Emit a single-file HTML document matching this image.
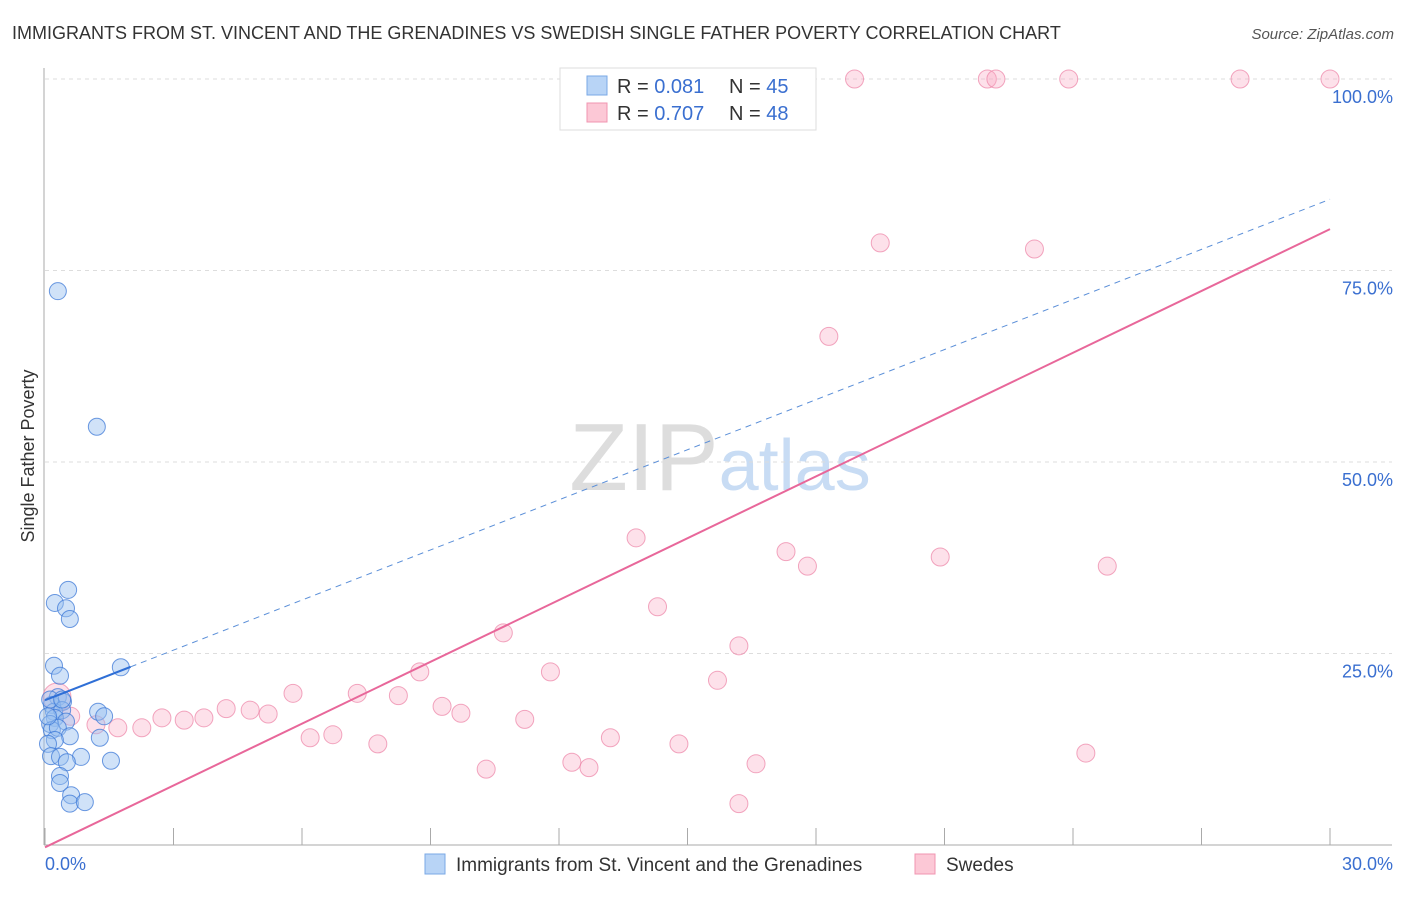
<!DOCTYPE html>
<html><head><meta charset="utf-8"><style>
body{margin:0;background:#fff;font-family:"Liberation Sans",sans-serif;}
svg text{font-family:"Liberation Sans",sans-serif;}
</style></head><body>
<svg width="1406" height="892" xmlns="http://www.w3.org/2000/svg">
<text x="12" y="39" font-size="18" fill="#333">IMMIGRANTS FROM ST. VINCENT AND THE GRENADINES VS SWEDISH SINGLE FATHER POVERTY CORRELATION CHART</text>
<text x="1394" y="39" font-size="15" fill="#555" font-style="italic" text-anchor="end">Source: ZipAtlas.com</text>
<text x="720" y="490" font-size="96" fill="#ddd" text-anchor="middle" font-family="Liberation Serif">ZIP<tspan fill="#c8dcf4" font-family="Liberation Sans" font-size="72">atlas</tspan></text>
<g id="grid"></g>
<g id="axes"></g>
<g id="marks"></g>
<text transform="translate(34,456) rotate(-90)" font-size="18" fill="#333" text-anchor="middle">Single Father Poverty</text>
<g>
<rect x="560" y="68" width="256" height="62" fill="#fff" stroke="#ddd"/>
<rect x="587" y="76" width="20" height="19" fill="#b8d4f6" stroke="#7aa8e6"/>
<rect x="587" y="103" width="20" height="19" fill="#fcc8d6" stroke="#f095b0"/>
<text x="617" y="93" font-size="20" fill="#333">R = <tspan fill="#3a6fd0">0.081</tspan></text>
<text x="729" y="93" font-size="20" fill="#333">N = <tspan fill="#3a6fd0">45</tspan></text>
<text x="617" y="120" font-size="20" fill="#333">R = <tspan fill="#3a6fd0">0.707</tspan></text>
<text x="729" y="120" font-size="20" fill="#333">N = <tspan fill="#3a6fd0">48</tspan></text>
</g>
<g>
<rect x="425" y="854" width="20" height="20" fill="#b8d4f6" stroke="#7aa8e6"/>
<text x="456" y="871" font-size="19" fill="#333">Immigrants from St. Vincent and the Grenadines</text>
<rect x="915" y="854" width="20" height="20" fill="#fcc8d6" stroke="#f095b0"/>
<text x="946" y="871" font-size="19" fill="#333">Swedes</text>
</g>
</svg>
<script>
const yTicks=[25,50,75,100];
const yTickLabels=["25.0%","50.0%","75.0%","100.0%"];
const xTicks=[0,3,6,9,12,15,18,21,24,27,30];
const blueX=[0.30,1.21,0.54,0.23,0.49,0.58,0.21,1.77,0.35,0.30,0.42,0.16,0.21,0.40,1.24,1.38,0.23,0.49,0.12,0.16,0.30,0.58,1.28,0.23,0.07,0.14,0.35,0.84,0.51,1.54,0.35,0.35,0.61,0.58,0.93,0.07,0.12,0.40];
const blueY=[72.3,54.6,33.3,31.6,30.9,29.5,23.4,23.2,22.1,19.3,18.7,18.3,17.4,17.6,17.4,16.8,16.6,16.1,15.8,15.0,15.3,14.2,14.0,13.7,13.2,11.6,11.5,11.5,10.8,11.0,9.0,8.1,6.5,5.4,5.6,16.8,19.0,19.0];
const pinkX=[18.9,22.0,22.2,23.9,27.9,30,19.5,23.1,18.3,13.8,17.3,20.9,17.8,24.8,14.3,10.7,16.2,8.75,11.8,15.7,5.79,7.29,8.25,0.28,9.27,9.71,4.23,4.79,5.21,2.73,3.25,3.71,11.2,2.26,1.70,1.19,6.19,6.72,7.77,13.2,14.8,24.3,12.3,10.3,12.7,16.6,16.2,0.6];
const pinkY=[100,100,100,100,100,100,78.6,77.8,66.4,40.1,38.3,37.6,36.4,36.4,31.1,27.7,26.0,22.6,22.6,21.5,19.8,19.8,19.5,19.3,18.1,17.2,17.8,17.6,17.1,16.6,16.3,16.6,16.4,15.3,15.3,15.7,14.0,14.4,13.2,14.0,13.2,12.0,10.8,9.9,10.1,10.6,5.4,16.8];
const blueFit=[18.9,2.18]; // intercept, slope
const pinkFit=[-0.3,2.69];
const NS="http://www.w3.org/2000/svg";
const sx=v=>45+v/30*1285, sy=v=>845-v/100*766;
function mk(p,t,a){const e=document.createElementNS(NS,t);for(const k in a)e.setAttribute(k,a[k]);p.appendChild(e);return e;}
const grid=document.getElementById('grid'),axes=document.getElementById('axes'),marks=document.getElementById('marks');
yTicks.forEach((t,i)=>{
 const g=mk(grid,'line',{x1:45,x2:1392,y1:sy(t),y2:sy(t),stroke:'#ddd','stroke-dasharray':'4,4'});
 
 
 const l=mk(axes,'text',{x:1393,y:sy(t)+24,'font-size':18,fill:'#3a6fd0','text-anchor':'end'});
 l.textContent=yTickLabels[i];
 
 
});
const ya=mk(axes,'line',{x1:44,x2:44,y1:68,y2:845,stroke:'#aaa'});


const xa=mk(axes,'line',{x1:44,x2:1392,y1:845,y2:845,stroke:'#aaa'});


xTicks.forEach(t=>{
 const k=mk(axes,'line',{x1:sx(t),x2:sx(t),y1:828,y2:845,stroke:'#aaa'});
 
 
});
const xl0=mk(axes,'text',{x:45,y:870,'font-size':18,fill:'#3a6fd0'});xl0.textContent='0.0%';


const xl1=mk(axes,'text',{x:1393,y:870,'font-size':18,fill:'#3a6fd0','text-anchor':'end'});xl1.textContent='30.0%';


pinkX.forEach((x,i)=>{
 const c=mk(marks,'circle',{cx:sx(x),cy:sy(pinkY[i]),r:(i===23?14:9),fill:'rgba(248,170,195,0.35)',stroke:'rgba(236,130,165,0.7)','stroke-width':1});
 
 
});
blueX.forEach((x,i)=>{
 const c=mk(marks,'circle',{cx:sx(x),cy:sy(blueY[i]),r:8.5,fill:'rgba(150,190,240,0.45)',stroke:'rgba(60,120,215,0.75)','stroke-width':1});
 
 
});
const bd=mk(marks,'line',{x1:sx(2),y1:sy(blueFit[0]+blueFit[1]*2),x2:sx(30),y2:sy(blueFit[0]+blueFit[1]*30),stroke:'#5b8fd8','stroke-width':1,'stroke-dasharray':'6,5'});


const bs=mk(marks,'line',{x1:sx(0),y1:sy(blueFit[0]),x2:sx(2),y2:sy(blueFit[0]+blueFit[1]*2),stroke:'#2f6fd6','stroke-width':2});


const ps=mk(marks,'line',{x1:sx(0),y1:sy(pinkFit[0]),x2:sx(30),y2:sy(pinkFit[0]+pinkFit[1]*30),stroke:'#e8679a','stroke-width':2});


</script>
</body></html>
